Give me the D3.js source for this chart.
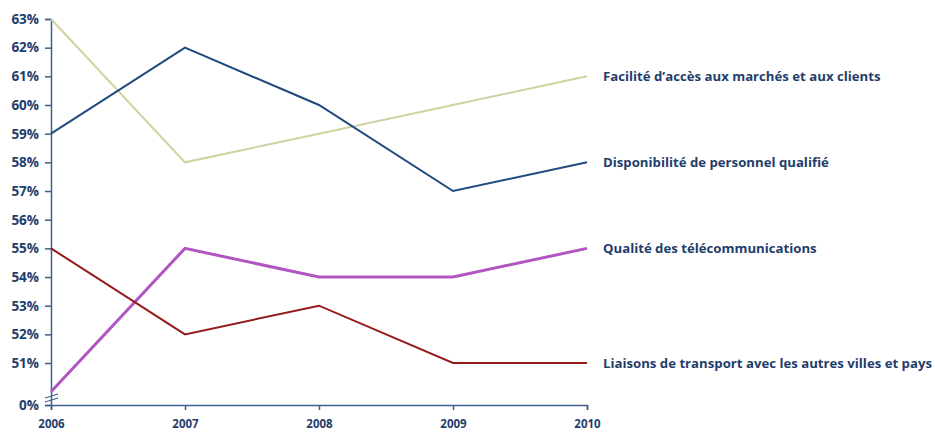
<!DOCTYPE html>
<html>
<head>
<meta charset="utf-8">
<script src="https://cdn.jsdelivr.net/npm/d3@7"></script>
<style>
body { margin: 0; background: #fff; }
text { font-family: "Open Sans", sans-serif; font-weight: bold; fill: #1f3e6b; }
</style>
</head>
<body>
<svg id="graph"></svg>
<script>
const graph = d3.select('#graph')

//set dimensions
const width = 935;
const height = 432;

//data
const years = [2006, 2007, 2008, 2009, 2010]
const facilite = [63, 58, 59, 60, 61]
const disponibilite = [59, 62, 60, 57, 58]
const qualite = [50, 55, 54, 54, 55]
const liaisons = [55, 52, 53, 51, 51]
const yTicks = [0, 51, 52, 53, 54, 55, 56, 57, 58, 59, 60, 61, 62, 63]

const series = [
    {name: 'Facilité d\u2019accès aux marchés et aux clients', values: facilite, color: '#cfd3a0', w: 2},
    {name: 'Disponibilité de personnel qualifié', values: disponibilite, color: '#1f4a7e', w: 2},
    {name: 'Qualité des télécommunications', values: qualite, color: '#b055c2', w: 3},
    {name: 'Liaisons de transport avec les autres villes et pays', values: liaisons, color: '#951b1b', w: 2}
]

graph
.attr('width', width)
.attr('height', height)

//set scales (broken axis: 0 sits just under 50)
const x_scale = d3.scalePoint().domain(years).range([51, 587])
const y_scale = d3.scaleLinear().domain([0, 50, 63]).range([405, 391.7, 19])

const axisColor = '#3f5f8f'

// y axis
const y_axis = d3.axisLeft(y_scale).tickValues(yTicks).tickSize(6).tickPadding(6).tickFormat(d => d + '%')
const gy = graph.append('g')
.attr('transform', 'translate(51,0)')
.call(y_axis)
gy.select('.domain').attr('stroke', axisColor).attr('stroke-width', 1.5)
gy.selectAll('.tick line').attr('stroke', axisColor).attr('stroke-width', 1.5)
gy.selectAll('.tick text').style('font-size', '13.5px')

// x axis
const x_axis = d3.axisBottom(x_scale).tickSize(5).tickPadding(10).tickFormat(d3.format('d'))
const gx = graph.append('g')
.attr('transform', 'translate(0,405)')
.call(x_axis)
gx.select('.domain').attr('stroke', axisColor).attr('stroke-width', 1.5)
gx.selectAll('.tick line').attr('stroke', axisColor).attr('stroke-width', 1.5)
gx.selectAll('.tick text').style('font-size', '11.5px')

// axis break marks
const brk = graph.append('g').attr('stroke', axisColor).attr('stroke-width', 1.3)
brk.append('line').attr('x1', 45).attr('y1', 398).attr('x2', 58).attr('y2', 394)
brk.append('line').attr('x1', 45).attr('y1', 402).attr('x2', 58).attr('y2', 398)

// lines
const line = d3.line().x((d, i) => x_scale(years[i])).y(d => y_scale(d))

graph.selectAll('path.series')
.data(series)
.enter()
.append('path')
.attr('class', 'series')
.attr('fill', 'none')
.attr('stroke', d => d.color)
.attr('stroke-width', d => d.w)
.attr('d', d => line(d.values))

// labels at right
graph.selectAll('text.lbl')
.data(series)
.enter()
.append('text')
.attr('class', 'lbl')
.attr('x', 603)
.attr('y', d => y_scale(d.values[d.values.length - 1]))
.attr('dy', '0.35em')
.style('font-size', '13.2px')
.text(d => d.name)
</script>
</body>
</html>
